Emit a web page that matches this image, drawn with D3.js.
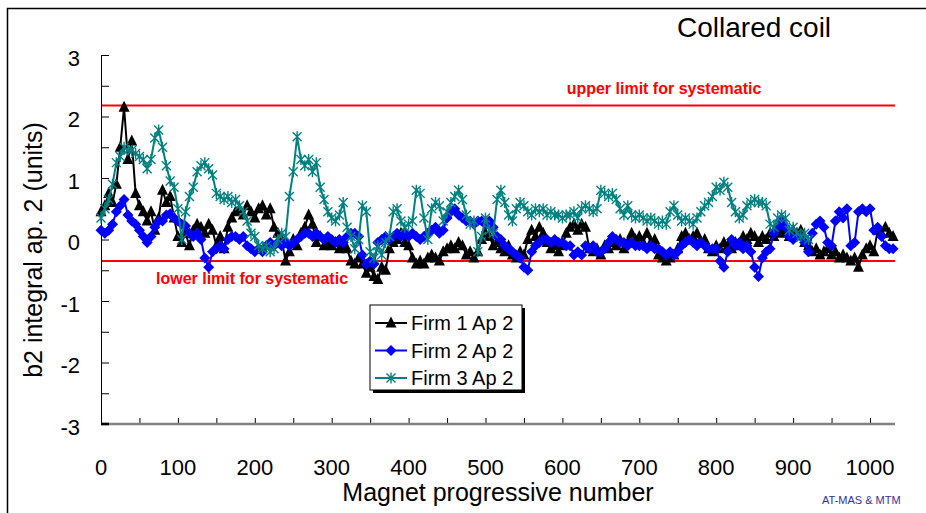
<!DOCTYPE html>
<html><head><meta charset="utf-8">
<script src="https://cdn.jsdelivr.net/npm/d3@7/dist/d3.min.js"></script>
<style>body{margin:0;background:#fff}svg{display:block}text{font-family:"Liberation Sans",Arial,sans-serif}</style>
</head><body><svg id="c" width="926" height="513"></svg>
<script>
// ---- data ----
const magnets = d3.range(0, 1031, 5); // magnet progressive numbers (category positions)
const firm1 = [
 0.45,0.55,0.75,0.6,0.9,1.5,2.15,1.3,1.6,0.75,0.55,0.45,0.3,0.45,0.15,0.35,0.8,0.6,0.7,0.35,
 0.05,-0.05,0.1,-0.1,0.15,0.25,0.2,0.1,0.25,0.15,-0.1,0.05,-0.15,0.2,0.35,0.45,0.5,0.4,0.55,0.45,
 0.35,0.5,0.55,0.4,0.5,0.2,0.1,0.0,-0.35,-0.2,0.0,-0.1,0.1,0.2,0.4,0.25,-0.05,0.05,-0.1,-0.05,
 -0.1,-0.05,-0.15,-0.1,-0.15,-0.35,-0.4,-0.3,-0.4,-0.55,-0.45,-0.6,-0.65,-0.45,-0.5,-0.15,-0.05,0.0,0.1,-0.05,
 -0.1,-0.3,-0.4,-0.35,-0.4,-0.3,-0.25,-0.3,-0.35,-0.2,-0.15,-0.1,-0.15,-0.05,-0.1,-0.25,-0.2,-0.3,-0.2,0.0,
 0.1,0.05,-0.1,-0.05,-0.15,-0.2,-0.1,-0.25,-0.3,-0.2,-0.25,0.0,0.15,0.05,0.2,0.1,-0.05,-0.15,-0.1,-0.2,
 -0.1,0.1,0.2,0.25,0.15,0.25,0.2,-0.15,-0.2,-0.15,-0.25,-0.1,-0.15,-0.05,-0.1,0.0,-0.15,-0.05,0.1,0.0,
 0.05,-0.05,0.1,-0.05,0.0,-0.25,-0.3,-0.35,-0.3,-0.25,-0.15,0.05,0.1,0.0,0.05,0.1,-0.05,0.0,-0.15,-0.2,
 -0.1,-0.15,-0.05,-0.1,-0.15,-0.05,-0.1,0.05,0.0,0.1,0.05,-0.05,0.05,0.0,0.1,0.05,0.15,0.1,0.15,0.05,
 0.15,0.1,0.15,-0.05,-0.1,-0.2,-0.15,-0.25,-0.2,-0.15,-0.25,-0.2,-0.3,-0.25,-0.3,-0.35,-0.3,-0.45,-0.25,-0.15,
 -0.1,-0.2,0.15,0.1,0.2,0.1,0.05];
const firm2 = [
 0.15,0.1,0.15,0.25,0.45,0.55,0.65,0.4,0.3,0.25,0.15,0.05,-0.05,0.05,0.2,0.3,0.3,0.4,0.42,0.35,
 0.3,0.25,0.22,0.1,0.05,0.1,0.0,-0.3,-0.45,-0.2,-0.15,-0.1,-0.15,0.0,0.05,0.05,0.0,0.05,-0.1,-0.15,
 -0.2,-0.15,-0.2,-0.1,-0.05,-0.1,-0.05,-0.1,-0.05,-0.1,-0.05,0.0,0.05,0.1,0.1,0.05,0.1,0.05,0.0,0.05,
 0.0,-0.05,0.0,-0.05,0.05,0.1,0.1,0.05,-0.25,-0.4,-0.35,-0.4,-0.05,0.0,0.05,0.0,0.05,0.1,0.05,0.1,
 0.05,0.1,0.05,0.0,0.05,0.1,0.15,0.2,0.1,0.15,0.35,0.45,0.5,0.4,0.35,0.3,0.3,0.25,0.3,0.3,
 0.25,0.3,0.2,0.05,0.0,-0.1,-0.15,-0.2,-0.25,-0.3,-0.45,-0.5,-0.2,-0.1,-0.05,0.0,0.0,-0.05,0.0,-0.05,
 -0.05,-0.1,-0.1,-0.25,-0.2,-0.25,-0.1,-0.15,-0.1,-0.2,-0.2,-0.15,-0.05,0.05,0.0,-0.05,-0.05,-0.1,-0.05,-0.1,
 -0.1,-0.1,-0.15,-0.1,-0.15,-0.15,-0.2,-0.25,-0.2,-0.25,-0.2,-0.1,-0.05,0.0,-0.05,-0.1,-0.05,-0.1,-0.15,-0.15,
 -0.15,-0.35,-0.45,-0.2,0.0,-0.1,-0.05,-0.15,-0.1,-0.2,-0.45,-0.6,-0.3,-0.2,-0.15,0.1,0.2,0.3,0.2,0.05,
 0.0,0.05,0.05,-0.05,-0.2,0.1,0.25,0.3,0.2,-0.05,-0.1,0.3,0.45,0.35,0.5,-0.1,-0.05,0.45,0.5,0.45,
 0.5,0.15,0.2,0.05,-0.1,-0.15,-0.15];
const firm3 = [
 0.35,0.5,0.65,0.9,1.25,1.35,1.5,1.45,1.45,1.4,1.35,1.3,1.15,1.3,1.65,1.78,1.5,1.2,0.95,0.85,
 0.5,0.0,0.45,0.7,0.85,1.1,1.2,1.25,1.15,1.05,0.75,0.7,0.65,0.7,0.6,0.65,0.55,0.45,0.3,0.1,
 0.05,-0.1,-0.15,-0.1,-0.2,-0.15,0.0,0.1,0.05,0.7,1.1,1.67,1.3,1.2,1.3,1.1,1.25,0.85,0.65,0.45,
 0.35,0.3,0.4,0.6,0.2,0.05,-0.15,0.0,0.55,0.45,-0.2,-0.3,-0.1,-0.25,-0.05,0.05,0.45,0.5,0.3,0.2,
 0.25,0.3,0.8,0.75,0.35,0.0,0.5,0.6,0.55,0.3,0.45,0.6,0.7,0.8,0.65,0.4,0.25,0.3,-0.2,0.05,
 0.35,0.15,0.1,0.65,0.8,0.6,0.4,0.3,0.5,0.6,0.55,0.45,0.4,0.5,0.45,0.5,0.4,0.45,0.4,0.4,
 0.35,0.4,0.4,0.45,0.35,0.5,0.55,0.5,0.45,0.5,0.8,0.75,0.7,0.75,0.65,0.5,0.4,0.55,0.4,0.35,
 0.4,0.35,0.3,0.35,0.3,0.25,0.3,0.25,0.45,0.55,0.4,0.3,0.35,0.3,0.25,0.35,0.45,0.55,0.6,0.7,
 0.85,0.8,0.93,0.85,0.6,0.45,0.35,0.4,0.55,0.6,0.65,0.6,0.6,0.55,0.25,0.2,0.35,0.4,0.35,0.15,
 0.2,0.1,0.05,0.1,0.0];
const seriesNames = ["Firm 1 Ap 2","Firm 2 Ap 2","Firm 3 Ap 2"];
const seriesColors = ["#000000","#0000ff","#008080"];
const xTicks = [0,100,200,300,400,500,600,700,800,900,1000];
const yTicks = [-3,-2,-1,0,1,2,3];
const upperLimit = 2.18, lowerLimit = -0.35;

// ---- chart ----
const svg = d3.select("#c");
const xMax = 1032.5;
const x = d3.scaleLinear().domain([0,xMax]).range([101,895]);
const y = d3.scaleLinear().domain([-3,3]).range([424,55]);

// frame
svg.append("path").attr("d","M7.5,513 V8.5 H926").attr("fill","none").attr("stroke","#000").attr("stroke-width",1.5);

// title
svg.append("text").attr("x",677).attr("y",37).attr("font-size",28).text("Collared coil");

// limit lines
[upperLimit, lowerLimit].forEach(v=>{
  svg.append("line").attr("x1",x(0)).attr("x2",x(xMax)).attr("y1",y(v)).attr("y2",y(v)).attr("stroke","#ff0000").attr("stroke-width",2);
});
svg.append("text").attr("x",664).attr("y",94).attr("text-anchor","middle").attr("font-size",16).attr("font-weight","bold").attr("fill","#ff0000").text("upper limit for systematic");
svg.append("text").attr("x",252).attr("y",284).attr("text-anchor","middle").attr("font-size",16).attr("font-weight","bold").attr("fill","#ff0000").text("lower limit for systematic");

// axes
const yAxis = d3.axisRight(y).tickValues(d3.range(-3,3.01,0.5)).tickSize(8).tickFormat("");
const gy = svg.append("g").attr("transform",`translate(${x(0)},0)`).call(yAxis);
gy.select(".domain").attr("stroke","#000");
gy.selectAll(".tick line").attr("stroke","#000");
const xAxis = d3.axisTop(x).tickValues(d3.range(0,1001,50)).tickSize(6).tickFormat("");
const gx = svg.append("g").attr("transform",`translate(0,${y(-3)})`).call(xAxis);
gx.select(".domain").remove();
gx.selectAll(".tick line").attr("stroke","#000");
svg.append("line").attr("x1",x(0)).attr("x2",x(xMax)).attr("y1",y(-3)).attr("y2",y(-3)).attr("stroke","#808080").attr("stroke-width",2.5);
svg.append("line").attr("x1",x(0)).attr("x2",x(0)+8).attr("y1",y(-3)).attr("y2",y(-3)).attr("stroke","#000").attr("stroke-width",2.5);

svg.selectAll(".ylab").data(yTicks).enter().append("text").attr("class","ylab")
  .attr("x",80).attr("y",d=>y(d)+3).attr("dy","0.35em").attr("text-anchor","end").attr("font-size",22).text(d=>d);
svg.selectAll(".xlab").data(xTicks).enter().append("text").attr("class","xlab")
  .attr("x",d=>x(d)).attr("y",475).attr("text-anchor","middle").attr("font-size",22).text(d=>d);

svg.append("text").attr("x",498).attr("y",501).attr("text-anchor","middle").attr("font-size",25).text("Magnet progressive number");
svg.append("text").attr("transform","translate(42,250) rotate(-90)").attr("text-anchor","middle").attr("font-size",25).text("b2 integral ap. 2 (units)");
svg.append("text").attr("x",822).attr("y",504).attr("font-size",11).attr("fill","#333399").text("AT-MAS & MTM");

// markers
function marker(g, i, cx, cy){
  const c = seriesColors[i];
  if(i===0){
    g.append("path").attr("d",`M${cx},${cy-6.5}L${cx+5.5},${cy+4.5}L${cx-5.5},${cy+4.5}Z`).attr("fill",c);
  } else if(i===1){
    g.append("path").attr("d",`M${cx},${cy-5.5}L${cx+5.5},${cy}L${cx},${cy+5.5}L${cx-5.5},${cy}Z`).attr("fill",c);
  } else {
    g.append("path").attr("d",`M${cx-4.5},${cy-4.5}L${cx+4.5},${cy+4.5}M${cx+4.5},${cy-4.5}L${cx-4.5},${cy+4.5}M${cx},${cy-5.5}L${cx},${cy+5.5}`).attr("stroke",c).attr("stroke-width",1.4).attr("fill","none");
  }
}
const data = [firm1, firm2, firm3];
const line = d3.line().x(d=>x(d[0])).y(d=>y(d[1]));
data.forEach((vals,i)=>{
  const pts = vals.map((v,j)=>[magnets[j],v]);
  const g = svg.append("g");
  g.append("path").attr("d",line(pts)).attr("fill","none").attr("stroke",seriesColors[i]).attr("stroke-width",2);
  pts.forEach(p=>marker(g,i,x(p[0]),y(p[1])));
});

// legend
const lg = svg.append("g");
lg.append("rect").attr("x",373).attr("y",308).attr("width",152).attr("height",85).attr("fill","#000");
lg.append("rect").attr("x",370).attr("y",305).attr("width",152).attr("height",85).attr("fill","#fff").attr("stroke","#000").attr("stroke-width",1);
seriesNames.forEach((n,i)=>{
  const yy = 323 + i*27.5;
  lg.append("line").attr("x1",375).attr("x2",407).attr("y1",yy).attr("y2",yy).attr("stroke",seriesColors[i]).attr("stroke-width",2);
  marker(lg,i,391,yy);
  lg.append("text").attr("x",411).attr("y",yy).attr("dy","0.35em").attr("font-size",20).text(n);
});
</script></body></html>
